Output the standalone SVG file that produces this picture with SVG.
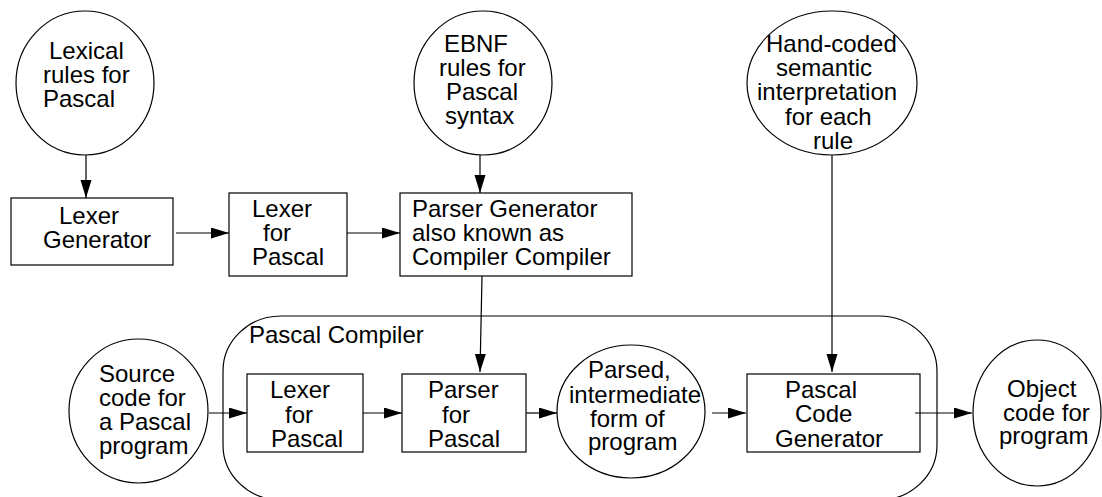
<svg xmlns="http://www.w3.org/2000/svg" width="1102" height="497" viewBox="0 0 1102 497">
<style>
.s{fill:#fff;stroke:#000;stroke-width:1.2}
.c{fill:none;stroke:#000;stroke-width:1.2}
text{font-family:"Liberation Sans",Arial,sans-serif;font-size:24px;fill:#000}
</style>
<defs>
<marker id="ah" markerUnits="userSpaceOnUse" markerWidth="20" markerHeight="12" refX="18" refY="5.5" orient="auto">
<path d="M0,0 L18,5.5 L0,11 Z" fill="#000"/>
</marker>
</defs>
<rect fill="#fff" x="0" y="0" width="1102" height="497"/>
<g id="pascal-compiler">
<rect class="c" x="223" y="316" width="714" height="184" rx="58" ry="55"/>
<text x="249" y="343">Pascal Compiler</text>
</g>
<g id="lexical-rules">
<ellipse class="s" cx="85" cy="83" rx="69" ry="72"/>
<text x="49" y="59">Lexical</text>
<text x="43" y="83">rules for</text>
<text x="43" y="107">Pascal</text>
</g>
<g id="ebnf-rules">
<ellipse class="s" cx="483" cy="83" rx="69" ry="72"/>
<text x="444" y="52">EBNF</text>
<text x="439" y="76">rules for</text>
<text x="446" y="100">Pascal</text>
<text x="445" y="124">syntax</text>
</g>
<g id="hand-coded">
<ellipse class="s" cx="832" cy="83" rx="85" ry="72"/>
<text x="766" y="52">Hand-coded</text>
<text x="776" y="76">semantic</text>
<text x="757" y="100">interpretation</text>
<text x="785" y="125">for each</text>
<text x="813" y="149">rule</text>
</g>
<g id="lexer-generator">
<rect class="s" x="11" y="198" width="162" height="67"/>
<text x="59" y="224">Lexer</text>
<text x="43" y="248">Generator</text>
</g>
<g id="lexer-for-pascal-top">
<rect class="s" x="229" y="193" width="118" height="83"/>
<text x="252" y="217">Lexer</text>
<text x="263" y="241">for</text>
<text x="252" y="265">Pascal</text>
</g>
<g id="parser-generator">
<rect class="s" x="400" y="193" width="232" height="83"/>
<text x="412" y="217">Parser Generator</text>
<text x="412" y="241">also known as</text>
<text x="412" y="265">Compiler Compiler</text>
</g>
<g id="source-code">
<ellipse class="s" cx="138.5" cy="411" rx="69.5" ry="72"/>
<text x="99" y="382">Source</text>
<text x="99" y="406">code for</text>
<text x="99" y="430">a Pascal</text>
<text x="99" y="454">program</text>
</g>
<g id="lexer-for-pascal">
<rect class="s" x="247" y="374" width="116" height="78"/>
<text x="270" y="398">Lexer</text>
<text x="285" y="423">for</text>
<text x="271" y="447">Pascal</text>
</g>
<g id="parser-for-pascal">
<rect class="s" x="402" y="374" width="124" height="78"/>
<text x="428" y="398">Parser</text>
<text x="442" y="423">for</text>
<text x="428" y="447">Pascal</text>
</g>
<g id="parsed-form">
<ellipse class="s" cx="631" cy="411.5" rx="74" ry="66.5"/>
<text x="588" y="378">Parsed,</text>
<text x="569" y="403">intermediate</text>
<text x="590" y="427">form of</text>
<text x="588" y="450">program</text>
</g>
<g id="code-generator">
<rect class="s" x="747" y="374" width="173" height="78"/>
<text x="785" y="398">Pascal</text>
<text x="795" y="422">Code</text>
<text x="775" y="447">Generator</text>
</g>
<g id="object-code">
<ellipse class="s" cx="1037" cy="413" rx="64" ry="73"/>
<text x="1007" y="397">Object</text>
<text x="1003" y="421">code for</text>
<text x="999" y="444">program</text>
</g>
<g id="connectors">
<line class="c" x1="86" y1="155" x2="86" y2="198" marker-end="url(#ah)"/>
<line class="c" x1="176" y1="233" x2="229" y2="233" marker-end="url(#ah)"/>
<line class="c" x1="347" y1="233" x2="400" y2="233" marker-end="url(#ah)"/>
<line class="c" x1="480" y1="155" x2="480" y2="193" marker-end="url(#ah)"/>
<line class="c" x1="482" y1="276" x2="480" y2="372" marker-end="url(#ah)"/>
<line class="c" x1="832" y1="155" x2="832" y2="372" marker-end="url(#ah)"/>
<line class="c" x1="209" y1="413" x2="247" y2="413" marker-end="url(#ah)"/>
<line class="c" x1="363" y1="413" x2="402" y2="413" marker-end="url(#ah)"/>
<line class="c" x1="526" y1="413" x2="557" y2="413" marker-end="url(#ah)"/>
<line class="c" x1="712" y1="413" x2="746" y2="413" marker-end="url(#ah)"/>
<line class="c" x1="915" y1="413" x2="972" y2="413" marker-end="url(#ah)"/>
</g>
</svg>
